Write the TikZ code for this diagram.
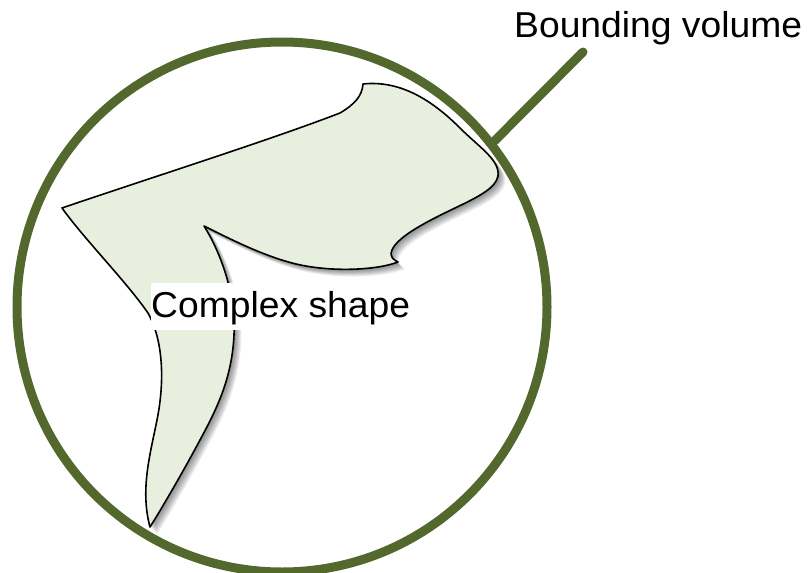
\documentclass[tikz,border=0pt]{standalone}
\usepackage{fontspec}
\setmainfont{Liberation Sans}
\definecolor{bvgreen}{RGB}{83,104,45}
\definecolor{shapefill}{RGB}{232,239,222}
\newcommand\shapeoutline{(62,208) .. controls (150,178) and (270,140) .. (340,113) .. controls (355,104) and (362,96) .. (363,84) .. controls (400,80) and (432,100) .. (460,128) .. controls (480,148) and (500,160) .. (498,176) .. controls (496,188) and (478,197) .. (455,208) .. controls (428,221) and (398,236) .. (392,250) .. controls (389,257) and (394,260) .. (398,262) .. controls (378,270) and (330,273) .. (292,263) .. controls (262,255) and (232,240) .. (204,226) .. controls (218,248) and (236,290) .. (234,335) .. controls (232,380) and (215,412) .. (200,440) .. controls (184,470) and (162,508) .. (150,527) .. controls (140,490) and (150,455) .. (157,420) .. controls (165,380) and (163,340) .. (148,313) .. controls (125,280) and (85,240) .. (62,208) -- cycle}
\newcommand\widetext[1]{\scalebox{1.035}[1]{#1}}
\tikzset{
  lbl/.style={font=\fontsize{36}{40}\selectfont, text=black},
  bvring/.style={circle, draw=bvgreen, line width=9pt, inner sep=0pt, minimum size=530pt},
  leadline/.style={draw=bvgreen, line width=9pt, line cap=round},
  cshape/.style={fill=shapefill, draw=black, line width=1.6pt, line join=round},
  cshadow/.style={fill=black, opacity=0.065}
}
\begin{document}
\begin{tikzpicture}[x=1pt,y=-1pt]
\useasboundingbox (0,0) rectangle (807,573);
\node[bvring] (bvol) at (282,307) {};
\coordinate (leadend) at (583,52);
\draw[leadline] (bvol.38) -- (leadend);
\foreach \i in {1,...,8} {
  \path[cshadow, shift={(\i*0.9,\i*0.9)}] \shapeoutline;
}
\path[cshape] \shapeoutline;
\node[lbl, anchor=base west, inner sep=0pt] (bvlabel) at (514,37) {\widetext{Bounding volume}};
\node[lbl, anchor=base west, fill=white, inner sep=0pt, text height=34pt, text depth=13pt] (cslabel) at (151,317) {\widetext{Complex shape}};
\end{tikzpicture}
\end{document}
